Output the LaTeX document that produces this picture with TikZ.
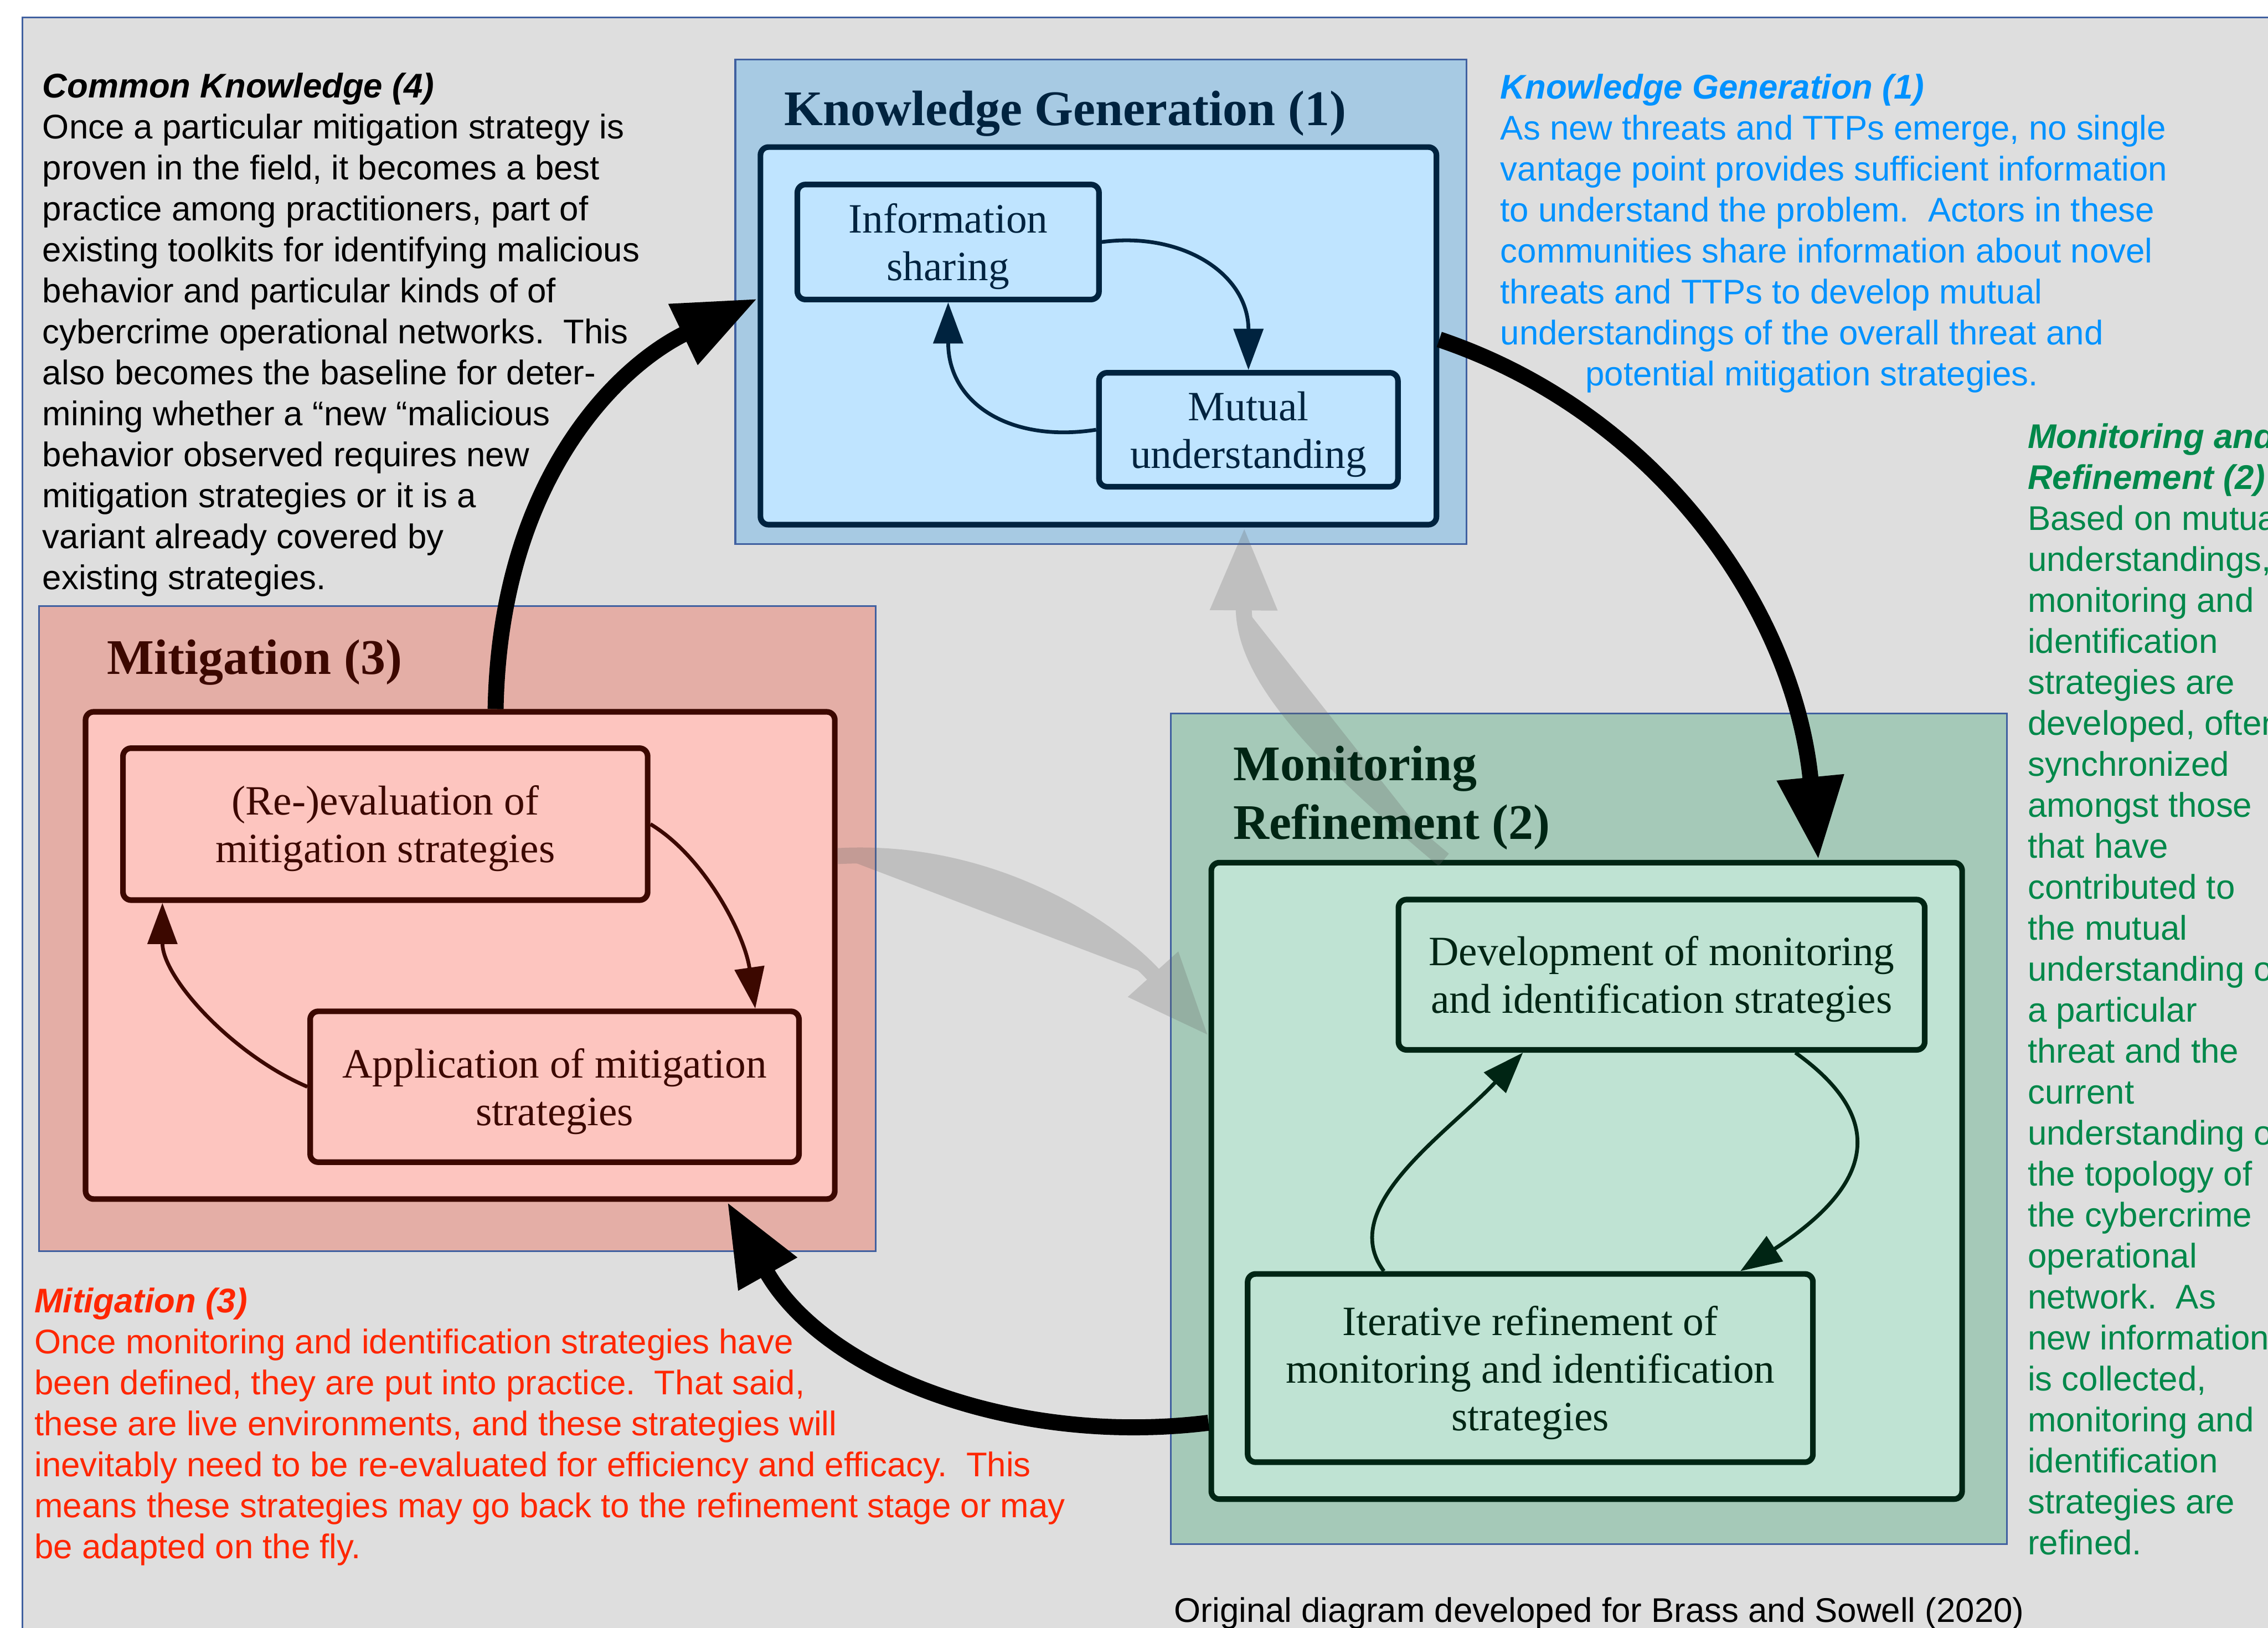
\documentclass[tikz,border=0pt]{standalone}
\usepackage{fontspec}
\setmainfont{Liberation Serif}
\setsansfont{Liberation Sans}
\usetikzlibrary{arrows.meta}

\definecolor{bggray}{RGB}{222,222,222}
\definecolor{frameblue}{RGB}{64,96,160}
\definecolor{kgdark}{RGB}{0,35,63}
\definecolor{kgouter}{RGB}{167,202,227}
\definecolor{kginner}{RGB}{191,228,255}
\definecolor{mitdark}{RGB}{60,8,0}
\definecolor{mitouter}{RGB}{228,174,166}
\definecolor{mitinner}{RGB}{253,197,191}
\definecolor{mondark}{RGB}{0,37,20}
\definecolor{monouter}{RGB}{165,201,184}
\definecolor{moninner}{RGB}{191,227,211}
\definecolor{ghostgray}{RGB}{100,100,100}
\definecolor{kgtext}{RGB}{0,146,255}
\definecolor{montext}{RGB}{0,136,74}
\definecolor{mittext}{RGB}{255,38,0}

\newcommand{\notefont}{\sffamily\fontsize{18.2}{21.8}\selectfont}
\newcommand{\blockfont}{\fontsize{22.2}{25.3}\selectfont}
\newcommand{\clusterfont}{\bfseries\fontsize{26.5}{31.3}\selectfont}

\tikzset{%
	cluster/.style  = {draw=frameblue, line width=0.9pt, rectangle}, % Stage area
	panel/.style    = {draw, line width=3pt, rectangle, rounded corners=0.15cm},
	block/.style    = {draw, line width=3pt, rectangle, rounded corners=0.15cm, align=center, text depth=0pt, font=\blockfont},
	heading/.style  = {anchor=base west, inner sep=0pt, font=\clusterfont},
	note/.style     = {anchor=north west, inner sep=0pt, align=left, font=\notefont},
	link/.style     = {line width=2pt, -{Triangle[length=0.77cm,width=0.55cm]}},
	bigarrow/.style = {line width=8.5pt, -{Triangle[length=1.55cm,width=1.18cm]}},
	ghost/.style    = {bigarrow, draw=ghostgray, fill=ghostgray} % Faded link
}

\begin{document}
\begin{tikzpicture}
	\useasboundingbox (0,0) rectangle (42.41,-30.44);
	\clip (0,0) rectangle (42.41,-30.44);
	\fill[white] (0,0) rectangle (42.41,-30.44);
	\fill[bggray] (0.42,-0.33) rectangle (42.41,-30.44);
	\draw[frameblue, line width=0.9pt] (0.42,-30.44) |- (42.41,-0.33);

	% Knowledge Generation (1)
	\node[cluster, fill=kgouter, minimum width=13.67cm, minimum height=9.06cm] (kgbox) at (20.585,-5.64) {};
	\node[panel, draw=kgdark, fill=kginner, minimum width=12.64cm, minimum height=7.06cm] (kgpanel) at (20.54,-6.28) {};
	\node[block, draw=kgdark, fill=kginner, text=kgdark, minimum width=5.64cm, minimum height=2.15cm] (info) at (17.73,-4.525) {Information\\sharing};
	\node[block, draw=kgdark, fill=kginner, text=kgdark, minimum width=5.59cm, minimum height=2.13cm] (mutual) at (23.345,-8.035) {Mutual\\understanding};

	% Mitigation (3)
	\node[cluster, fill=mitouter, minimum width=15.64cm, minimum height=12.06cm] (mitbox) at (8.55,-17.36) {};
	\node[panel, draw=mitdark, fill=mitinner, minimum width=14.01cm, minimum height=9.11cm] (mitpanel) at (8.605,-17.865) {};
	\node[block, draw=mitdark, fill=mitinner, text=mitdark, minimum width=9.81cm, minimum height=2.84cm] (reeval) at (7.205,-15.41) {(Re-)evaluation of\\mitigation strategies};
	\node[block, draw=mitdark, fill=mitinner, text=mitdark, minimum width=9.14cm, minimum height=2.82cm] (apply) at (10.37,-20.32) {Application of mitigation\\strategies};

	% Monitoring Refinement (2)
	\node[cluster, fill=monouter, minimum width=15.64cm, minimum height=15.53cm] (monbox) at (29.71,-21.105) {};
	\node[panel, draw=mondark, fill=moninner, minimum width=14.04cm, minimum height=11.90cm] (monpanel) at (29.67,-22.08) {};
	\node[block, draw=mondark, fill=moninner, text=mondark, minimum width=9.84cm, minimum height=2.81cm] (develop) at (31.07,-18.225) {Development of monitoring\\and identification strategies};
	\node[block, draw=mondark, fill=moninner, text=mondark, minimum width=10.57cm, minimum height=3.52cm] (refine) at (28.615,-25.58) {Iterative refinement of\\monitoring and identification\\strategies};

	% Loops inside each stage
	\draw[link, kgdark] (info.east) .. controls +(1.5,0.2) and +(0,1.8) .. (mutual.north);
	\draw[link, kgdark] (mutual.west) .. controls +(-1.6,-0.25) and +(0,-1.9) .. (info.south);
	\draw[link, mitdark] (reeval.east) .. controls +(1.0,-0.6) and +(-0.2,1.4) .. ([xshift=-0.87cm]apply.north east);
	\draw[link, mitdark] (apply.west) .. controls +(-1.4,0.6) and +(0,-1.4) .. ([xshift=0.79cm]reeval.south west);
	\draw[link, mondark] ([xshift=-2.47cm]develop.south east) .. controls +(2.1,-1.5) and +(2.0,1.3) .. ([xshift=-1.41cm]refine.north east);
	\draw[link, mondark] ([xshift=2.6cm]refine.north west) .. controls +(-0.9,1.2) and +(-1.4,-1.5) .. ([xshift=2.38cm]develop.south west);

	% Joining stages
	\begin{scope}[transparency group, opacity=0.25]
	\draw[ghost] ([yshift=-2.75cm]mitpanel.north east) .. controls +(2.89,0.16) and +(-1.8,2.0) .. ([yshift=-3.29cm]monpanel.north west);
	\draw[ghost] ([xshift=4.4cm]monpanel.north west) .. controls +(-2.55,2.13) and +(-0.02,-2.69) .. ([xshift=9.1cm]kgpanel.south west);
	\end{scope}
	\draw[bigarrow] ([xshift=7.72cm]mitpanel.north west) .. controls +(0.08,4.31) and +(-2.6,-1.25) .. ([yshift=4.28cm]kgpanel.south west);
	\draw[bigarrow] ([yshift=-3.65cm]kgpanel.north east) .. controls +(4.14,-1.4) and +(-0.45,4.63) .. ([xshift=-2.74cm]monpanel.north east);
	\draw[bigarrow] ([yshift=1.48cm]monpanel.south west) .. controls +(-3.65,-0.45) and +(1.8,-3.2) .. ([xshift=12.05cm]mitpanel.south west);

	% Stage titles
	\node[heading, text=kgdark] (kgtitle) at (14.66,-2.35) {Knowledge Generation (1)};
	\node[heading, text=mitdark] (mittitle) at (2.00,-12.61) {Mitigation (3)};
	\node[heading, anchor=north west, align=left, text=mondark] (montitle) at (23.06,-13.94) {Monitoring\\Refinement (2)};

	% Notes
	\node[note] (common) at (0.79,-1.36) {{\bfseries\itshape Common Knowledge (4)}\\
		Once a particular mitigation strategy is\\
		proven in the field, it becomes a best\\
		practice among practitioners, part of\\
		existing toolkits for identifying malicious\\
		behavior and particular kinds of of\\
		cybercrime operational networks.\ \ This\\
		also becomes the baseline for deter-\\
		mining whether a “new “malicious\\
		behavior observed requires new\\
		mitigation strategies or it is a\\
		variant already covered by\\
		existing strategies.};
	\node[note, text=kgtext] (kgnote) at (28.05,-1.38) {{\bfseries\itshape Knowledge Generation (1)}\\
		As new threats and TTPs emerge, no single\\
		vantage point provides sufficient information\\
		to understand the problem.\ \ Actors in these\\
		communities share information about novel\\
		threats and TTPs to develop mutual\\
		understandings of the overall threat and\\
		\hspace*{1.59cm}potential mitigation strategies.};
	\node[note, text=montext] (monnote) at (37.91,-7.91) {{\bfseries\itshape Monitoring and}\\
		{\bfseries\itshape Refinement (2)}\\
		Based on mutual\\
		understandings,\\
		monitoring and\\
		identification\\
		strategies are\\
		developed, often\\
		synchronized\\
		amongst those\\
		that have\\
		contributed to\\
		the mutual\\
		understanding of\\
		a particular\\
		threat and the\\
		current\\
		understanding of\\
		the topology of\\
		the cybercrime\\
		operational\\
		network.\ \ As\\
		new information\\
		is collected,\\
		monitoring and\\
		identification\\
		strategies are\\
		refined.};
	\node[note, text=mittext] (mitnote) at (0.64,-24.07) {{\bfseries\itshape Mitigation (3)}\\
		Once monitoring and identification strategies have\\
		been defined, they are put into practice.\ \ That said,\\
		these are live environments, and these strategies will\\
		inevitably need to be re-evaluated for efficiency and efficacy.\ \ This\\
		means these strategies may go back to the refinement stage or may\\
		be adapted on the fly.};
	\node[note] (credit) at (21.95,-29.86) {Original diagram developed for Brass and Sowell (2020)};
\end{tikzpicture}
\end{document}
